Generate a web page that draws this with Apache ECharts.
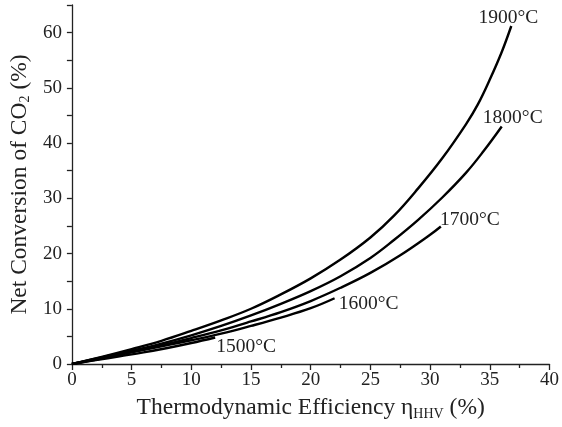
<!DOCTYPE html>
<html>
<head>
<meta charset="utf-8">
<script src="https://cdn.jsdelivr.net/npm/echarts@6/dist/echarts.min.js"></script>
<style>html,body{margin:0;padding:0;background:#fff}#c{width:562px;height:427px}</style>
</head>
<body>
<div id="c"></div>
<script>
const xTicks = [0, 5, 10, 15, 20, 25, 30, 35, 40];
const yTicks = [0, 10, 20, 30, 40, 50, 60];
const seriesNames = ['1500\u00B0C', '1600\u00B0C', '1700\u00B0C', '1800\u00B0C', '1900\u00B0C'];
const s1500 = [[0,0],[2,0.7],[4,1.4],[6,2.1],[8,2.9],[10,3.8],[12,4.8]];
const s1600 = [[0,0],[2.5,1.0],[5,2.1],[7.5,3.2],[10,4.3],[12.5,5.5],[15,6.9],[17.5,8.4],[20,10.1],[22,11.9]];
const s1700 = [[0,0],[2.5,1.1],[5,2.2],[7.5,3.4],[10,4.7],[12.5,6.1],[15,7.7],[17.5,9.4],[20,11.4],[22.5,13.8],[25,16.5],[27.5,19.7],[30,23.4],[30.9,24.9]];
const s1800 = [[0,0],[2.5,1.2],[5,2.4],[7.5,3.7],[10,5.2],[12.5,6.9],[15,8.8],[17.5,10.9],[20,13.2],[22.5,15.9],[25,19.2],[27,22.5],[29,26.1],[31,30.1],[33,34.6],[34.5,38.6],[36,43.0]];
const s1900 = [[0,0],[2.5,1.3],[5,2.7],[7.5,4.2],[10,6.0],[12.5,7.9],[15,10.0],[17.5,12.6],[20,15.5],[22.5,18.9],[25,22.9],[27,26.9],[29,31.8],[31,37.2],[33,43.4],[34,47.0],[35,51.5],[36,56.5],[36.8,61.2]];
const allData = [s1500, s1600, s1700, s1800, s1900];
const labelOffsets = [[31, 9], [34, 6], [29, -7], [11, -9], [-3, -8]];

const serif = 'Liberation Serif';
const chart = echarts.init(document.getElementById('c'), null, {renderer: 'canvas'});
chart.setOption({
  animation: false,
  backgroundColor: '#fff',
  grid: {left: 71, right: 10, top: 5, bottom: 63, containLabel: false},
  xAxis: {
    type: 'value', min: xTicks[0], max: xTicks[xTicks.length - 1], interval: 5,
    axisLine: {show: true, lineStyle: {color: '#222', width: 1.3}},
    axisTick: {show: true, inside: false, length: 6, lineStyle: {color: '#222', width: 1.3}},
    minorTick: {show: true, splitNumber: 2, length: 4, lineStyle: {color: '#222', width: 1.3}},
    splitLine: {show: false},
    axisLabel: {color: '#222', fontFamily: serif, fontSize: 19, margin: 7},
    name: '{a|Thermodynamic Efficiency \u03B7}{s|HHV}{a| (%)}',
    nameLocation: 'middle', nameGap: 31,
    nameTextStyle: {rich: {a: {fontFamily: serif, fontSize: 23.5, color: '#222'}, s: {fontFamily: serif, fontSize: 14, color: '#222', padding: [12, 0, 0, 0]}}}
  },
  yAxis: {
    type: 'value', min: 0, max: 65, interval: 5,
    axisLine: {show: true, lineStyle: {color: '#222', width: 1.3}},
    axisTick: {show: true, inside: false, length: 5, lineStyle: {color: '#222', width: 1.3}},
    splitLine: {show: false},
    axisLabel: {color: '#222', fontFamily: serif, fontSize: 19, margin: 10,
      formatter: v => (yTicks.indexOf(v) >= 0 ? String(v) : '')},
    name: '{a|Net Conversion of CO}{s|2}{a| (%)}',
    nameLocation: 'middle', nameGap: 32,
    nameTextStyle: {rich: {a: {fontFamily: serif, fontSize: 23.5, color: '#222'}, s: {fontFamily: serif, fontSize: 14, color: '#222', padding: [10, 0, 0, 0]}}}
  },
  series: allData.map((d, i) => ({
    type: 'line', name: seriesNames[i], data: d, smooth: 0.4,
    showSymbol: false, symbol: 'none',
    lineStyle: {color: '#000', width: 2.4},
    endLabel: {show: true, formatter: seriesNames[i], fontFamily: serif, fontSize: 19.5, color: '#222',
      distance: 0, align: 'center', verticalAlign: 'middle', offset: labelOffsets[i]}
  }))
});
</script>
</body>
</html>
